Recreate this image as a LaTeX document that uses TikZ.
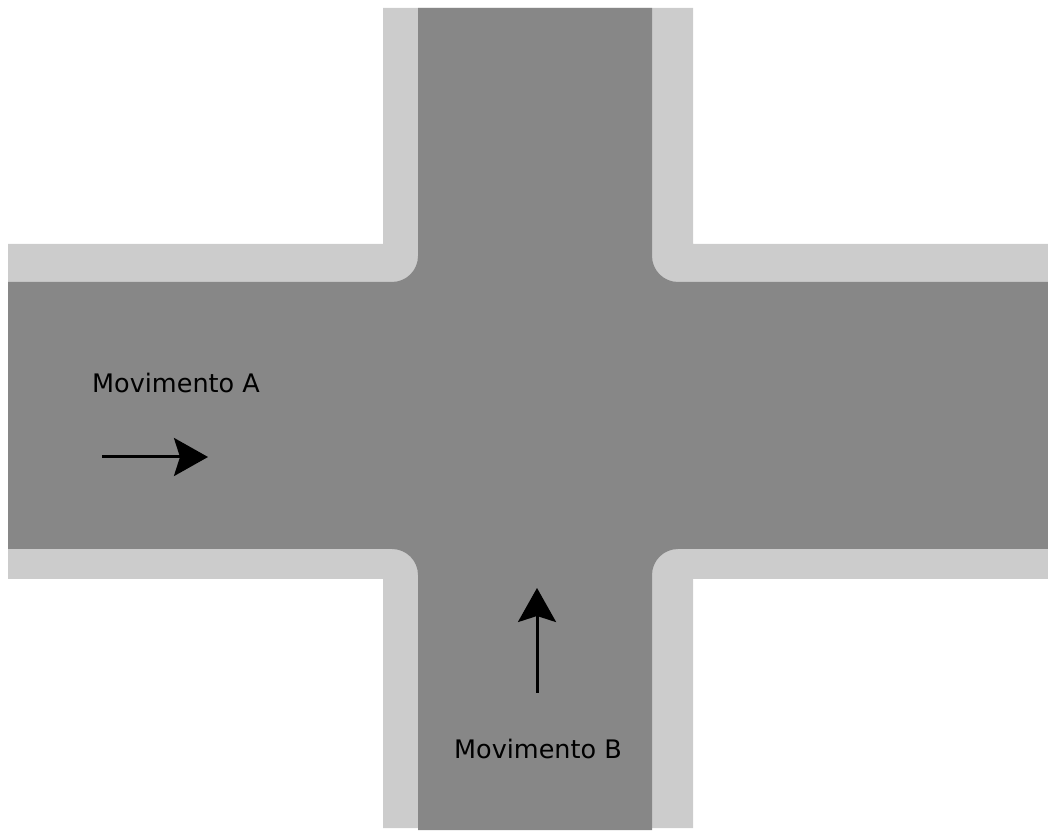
\documentclass[tikz,border=0pt]{standalone}
\usepackage{fontspec}
\setmainfont{DejaVu Sans}
\usetikzlibrary{arrows.meta}
\definecolor{asphalt}{RGB}{135,135,135}
\definecolor{kerb}{RGB}{204,204,204}

\begin{document}
\begin{tikzpicture}[x=1pt, y=1pt,
  label/.style={inner sep=0pt, anchor=base, font=\fontsize{25.5}{30}\selectfont},
  move/.style={line width=3pt, -{Stealth[length=34pt, width=38pt, inset=6pt]}}]
   \useasboundingbox (0,0) rectangle (1048,832);
   % sidewalk
   \fill[kerb] (383,824) -- (693,824) -- (693,588) -- (1048,588) -- (1048,253)
        -- (693,253) -- (693,4) -- (383,4) -- (383,253) -- (8,253) -- (8,588)
        -- (383,588) -- cycle;
   % road
   \fill[asphalt] (418,824) -- (652,824) -- (652,576)
        arc[start angle=180, end angle=270, radius=26] -- (1048,550)
        -- (1048,283) -- (678,283) arc[start angle=90, end angle=180, radius=26]
        -- (652,2) -- (418,2) -- (418,257)
        arc[start angle=0, end angle=90, radius=26] -- (8,283) -- (8,550)
        -- (392,550) arc[start angle=270, end angle=360, radius=26] -- cycle;
   \node[label] (movA) at (176,439) {Movimento A};
   \node[label] (movB) at (538,74) {Movimento B};
   \coordinate (a-from) at (102,375);
   \coordinate (a-to) at (208,375);
   \coordinate (b-from) at (537,139);
   \coordinate (b-to) at (537,244);
   \draw[move] (a-from) -- (a-to);
   \draw[move] (b-from) -- (b-to);
  \end{tikzpicture}
\end{document}
